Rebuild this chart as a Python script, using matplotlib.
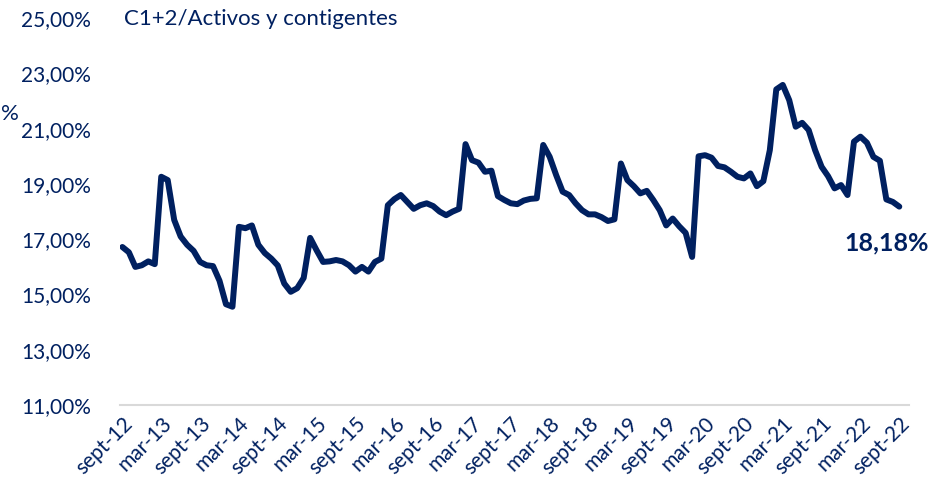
import matplotlib
matplotlib.use("Agg")
from matplotlib import pyplot as plt

# monthly ratio C1+2 / activos y contingentes, sept-12 .. sept-22 (in %)
ratio = [16.72, 16.53, 16.00, 16.06, 16.20, 16.10, 19.26, 19.14, 17.70, 17.10,
         16.80, 16.58, 16.18, 16.06, 16.03, 15.50, 14.65, 14.56, 17.45, 17.40,
         17.50, 16.80, 16.50, 16.30, 16.05, 15.40, 15.10, 15.23, 15.60, 17.05,
         16.60, 16.18, 16.20, 16.25, 16.20, 16.06, 15.83, 16.00, 15.83, 16.18,
         16.30, 18.23, 18.45, 18.60, 18.35, 18.10, 18.23, 18.30, 18.20, 18.00,
         17.87, 18.00, 18.10, 20.44, 19.86, 19.77, 19.44, 19.48, 18.56, 18.42,
         18.30, 18.27, 18.40, 18.46, 18.48, 20.41, 19.98, 19.32, 18.72, 18.60,
         18.30, 18.05, 17.90, 17.90, 17.80, 17.66, 17.72, 19.74, 19.14, 18.92,
         18.66, 18.75, 18.42, 18.05, 17.50, 17.75, 17.47, 17.23, 16.36, 20.00,
         20.04, 19.95, 19.65, 19.60, 19.44, 19.26, 19.20, 19.38, 18.92, 19.10,
         20.22, 22.42, 22.58, 22.03, 21.07, 21.21, 20.95, 20.22, 19.62, 19.28,
         18.84, 18.96, 18.60, 20.53, 20.71, 20.49, 19.98, 19.84, 18.44, 18.35,
         18.18]
months = list(range(len(ratio)))

tick_pos = list(range(0, 121, 6))
tick_labels = ["sept-12", "mar-13", "sept-13", "mar-14", "sept-14", "mar-15",
               "sept-15", "mar-16", "sept-16", "mar-17", "sept-17", "mar-18",
               "sept-18", "mar-19", "sept-19", "mar-20", "sept-20", "mar-21",
               "sept-21", "mar-22", "sept-22"]
y_ticks = [11, 13, 15, 17, 19, 21, 23, 25]

navy = "#002060"
font = "Lato"

fig = plt.figure(figsize=(9.41, 4.87), dpi=100)
ax = fig.add_axes([0.128, 0.168, 0.838, 0.795])

ax.plot(months, ratio, color=navy, linewidth=4.3, solid_joinstyle="round",
        solid_capstyle="round")

ax.set_xlim(-0.3, 121.5)
ax.set_ylim(11, 25)

ax.set_yticks(y_ticks)
ax.set_yticklabels([f"{v},00%" for v in y_ticks], fontsize=15,
                   color=navy, family=font)
ax.set_xticks(tick_pos)
ax.set_xticklabels(tick_labels, rotation=45, ha="right",
                   rotation_mode="anchor", fontsize=15, color=navy,
                   family=font)
ax.tick_params(axis="both", length=0)
ax.tick_params(axis="y", pad=21)
ax.tick_params(axis="x", pad=6)

for side in ["top", "right", "left"]:
    ax.spines[side].set_visible(False)
ax.spines["bottom"].set_color("#d9d9d9")
ax.spines["bottom"].set_linewidth(1.5)

# title inside the plot and last value label
ax.text(0.3, 24.97, "C1+2/Activos y contigentes", fontsize=16, color=navy,
        family=font, va="center", ha="left")
ax.text(118.0, 16.85, "18,18%", fontsize=18, color=navy, family=font,
        fontweight="bold", va="center", ha="center")

# axis label mostly hidden at the left edge
fig.text(0.001, 0.765, "%", fontsize=16, color=navy, family=font,
         va="center", ha="left")

fig.savefig("out.png", dpi=100)
